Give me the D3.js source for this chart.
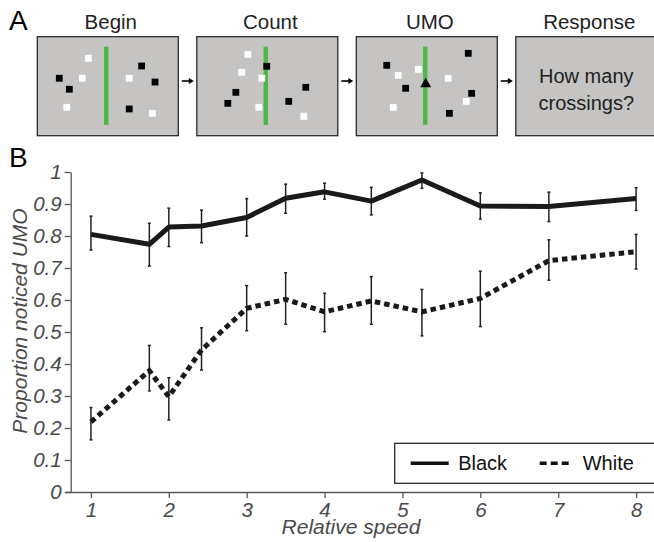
<!DOCTYPE html>
<html>
<head>
<meta charset="utf-8">
<script src="https://cdn.jsdelivr.net/npm/d3@7"></script>
<style>
body { margin: 0; background: #fff; }
text { font-family: "Liberation Sans", Arial, sans-serif; }
</style>
</head>
<body>
<div id="fig"></div>
<script>
// panel B data
const speeds = [1, 1.75, 2, 2.42, 3, 3.5, 4, 4.6, 5.25, 6, 6.88, 8];
const blackMean = [0.805, 0.774, 0.828, 0.831, 0.858, 0.918, 0.938, 0.909, 0.975, 0.894, 0.892, 0.917];
const blackLo = [0.756, 0.706, 0.767, 0.779, 0.800, 0.871, 0.915, 0.866, 0.949, 0.853, 0.845, 0.880];
const blackHi = [0.862, 0.840, 0.887, 0.881, 0.917, 0.962, 0.965, 0.952, 0.997, 0.935, 0.937, 0.951];
const whiteMean = [0.219, 0.379, 0.298, 0.444, 0.574, 0.602, 0.563, 0.597, 0.563, 0.605, 0.723, 0.751];
const whiteLo = [0.163, 0.316, 0.225, 0.381, 0.504, 0.524, 0.501, 0.524, 0.488, 0.517, 0.662, 0.697];
const whiteHi = [0.264, 0.458, 0.357, 0.513, 0.645, 0.685, 0.621, 0.673, 0.633, 0.690, 0.788, 0.805];
const xTicks = [1, 2, 3, 4, 5, 6, 7, 8];
const yTicks = [0, 0.1, 0.2, 0.3, 0.4, 0.5, 0.6, 0.7, 0.8, 0.9, 1];
const seriesNames = ["Black", "White"];

// panel A: stages and dot layouts (fractions of the box)
const stages = ["Begin", "Count", "UMO", "Response"];
const dotsBegin = [
  ["w", 0.362, 0.218], ["k", 0.156, 0.420], ["w", 0.319, 0.420], ["k", 0.227, 0.531],
  ["w", 0.209, 0.713], ["k", 0.740, 0.296], ["w", 0.652, 0.420], ["k", 0.835, 0.458],
  ["k", 0.652, 0.730], ["w", 0.816, 0.774]];
const dotsCount = [
  ["w", 0.362, 0.178], ["k", 0.496, 0.299], ["w", 0.319, 0.360], ["w", 0.461, 0.420],
  ["k", 0.277, 0.562], ["k", 0.220, 0.673], ["w", 0.440, 0.713], ["k", 0.773, 0.511],
  ["k", 0.652, 0.653], ["w", 0.759, 0.804]];
const dotsUmo = [
  ["k", 0.794, 0.168], ["k", 0.216, 0.289], ["w", 0.440, 0.329], ["w", 0.298, 0.390],
  ["w", 0.652, 0.420], ["k", 0.350, 0.521], ["k", 0.818, 0.572], ["w", 0.780, 0.653],
  ["w", 0.262, 0.713], ["k", 0.660, 0.774]];
const umoPos = [0.492, 0.471];
const responseLines = ["How many", "crossings?"];

const W = 654, H = 542;
const svg = d3.select('#fig').append('svg')
  .attr('width', W)
  .attr('height', H);

svg.append('rect').attr('width', W).attr('height', H).attr('fill', 'white');

// panel letters
svg.append('text').attr('x', 9).attr('y', 30).attr('font-size', 28).text('A');
svg.append('text').attr('x', 9).attr('y', 167).attr('font-size', 28).text('B');

// ---------- panel A ----------
const boxW = 141, boxH = 99, boxTop = 36.7;
const boxX = d3.scaleLinear().domain([0, 1]).range([37.3, 196.8]); // box index -> left edge
const boxDots = [dotsBegin, dotsCount, dotsUmo, null];

stages.forEach(function (name, i) {
  const x0 = boxX(i);
  const g = svg.append('g').attr('transform', 'translate(' + x0 + ',' + boxTop + ')');
  const fx = d3.scaleLinear().domain([0, 1]).range([0, boxW]);
  const fy = d3.scaleLinear().domain([0, 1]).range([0, boxH]);

  g.append('rect')
    .attr('width', boxW).attr('height', boxH)
    .attr('fill', '#c5c4c2')
    .attr('stroke', '#2a2a2a')
    .attr('stroke-width', 1.3);

  svg.append('text')
    .attr('x', x0 + boxW / 2 + 3).attr('y', 28.5)
    .attr('text-anchor', 'middle')
    .attr('font-size', 20.5)
    .attr('fill', '#222')
    .text(name);

  const dots = boxDots[i];
  if (dots) {
    g.append('rect')
      .attr('x', fx(0.489) - 2.2).attr('y', fy(0.101))
      .attr('width', 4.4).attr('height', fy(0.891) - fy(0.101))
      .attr('fill', '#4cb848');
    g.selectAll('.dot')
      .data(dots)
      .enter().append('rect')
      .attr('class', 'dot')
      .attr('x', function (d) { return fx(d[1]) - 3.4; })
      .attr('y', function (d) { return fy(d[2]) - 3.4; })
      .attr('width', 6.8).attr('height', 6.8)
      .attr('fill', function (d) { return d[0] === 'k' ? '#000' : '#fff'; });
    if (name === 'UMO') {
      const tx = fx(umoPos[0]), ty = fy(umoPos[1]);
      g.append('path')
        .attr('d', 'M' + tx + ',' + (ty - 5.5) + 'L' + (tx + 5.5) + ',' + (ty + 4) + 'L' + (tx - 5.5) + ',' + (ty + 4) + 'Z')
        .attr('fill', '#000');
    }
  } else {
    g.selectAll('.resp')
      .data(responseLines)
      .enter().append('text')
      .attr('x', boxW / 2)
      .attr('y', function (d, j) { return 46.6 + j * 26.7; })
      .attr('text-anchor', 'middle')
      .attr('font-size', 20)
      .attr('fill', '#222')
      .text(function (d) { return d; });
  }

  if (i < stages.length - 1) {
    const ax = x0 + boxW + 3.5, ay = 81;
    svg.append('line')
      .attr('x1', ax).attr('y1', ay).attr('x2', ax + 8).attr('y2', ay)
      .attr('stroke', '#000').attr('stroke-width', 1.6);
    svg.append('path')
      .attr('d', 'M' + (ax + 12) + ',' + ay + 'L' + (ax + 7) + ',' + (ay - 3) + 'L' + (ax + 7) + ',' + (ay + 3) + 'Z')
      .attr('fill', '#000');
  }
});

// ---------- panel B ----------
const x = d3.scaleLinear().domain([0.667, 8.23]).range([65, 654]);
const y = d3.scaleLinear().domain([0, 1]).range([492, 172]);
const axisColor = '#555';

const xAxis = svg.append('g')
  .attr('transform', 'translate(0,492)')
  .call(d3.axisBottom(x).tickValues(xTicks).tickSize(6).tickSizeOuter(0).tickPadding(3.5)
    .tickFormat(d3.format('d')));
const yAxis = svg.append('g')
  .attr('transform', 'translate(70.7,0)')
  .call(d3.axisLeft(y).tickValues(yTicks).tickSize(6).tickSizeOuter(0).tickPadding(3)
    .tickFormat(function (d) { return d === 0 ? '0' : d === 1 ? '1' : d.toFixed(1); }));

[xAxis, yAxis].forEach(function (a) {
  a.select('.domain').attr('stroke', axisColor).attr('stroke-width', 1.3);
  a.selectAll('.tick line').attr('stroke', axisColor).attr('stroke-width', 1.3);
  a.selectAll('.tick text')
    .attr('fill', '#4a4a4a')
    .attr('font-size', 20.5)
    .attr('font-style', 'italic')
    .attr('font-family', '"Liberation Sans", Arial, sans-serif');
});
xAxis.selectAll('.tick text').attr('dy', '0.75em');

svg.append('text')
  .attr('x', 351).attr('y', 534)
  .attr('text-anchor', 'middle')
  .attr('font-size', 21)
  .attr('font-style', 'italic')
  .attr('fill', '#4a4a4a')
  .text('Relative speed');

svg.append('text')
  .attr('transform', 'translate(26.5,321) rotate(-90)')
  .attr('text-anchor', 'middle')
  .attr('font-size', 21)
  .attr('font-style', 'italic')
  .attr('fill', '#4a4a4a')
  .text('Proportion noticed UMO');

function series(mean, lo, hi) {
  return speeds.map(function (s, i) { return { s: s, m: mean[i], lo: lo[i], hi: hi[i] }; });
}
const blackData = series(blackMean, blackLo, blackHi);
const whiteData = series(whiteMean, whiteLo, whiteHi);

const line = d3.line()
  .x(function (d) { return x(d.s); })
  .y(function (d) { return y(d.m); });

function errorBars(data) {
  const g = svg.append('g');
  g.selectAll('.err')
    .data(data)
    .enter().append('line')
    .attr('x1', function (d) { return x(d.s); })
    .attr('x2', function (d) { return x(d.s); })
    .attr('y1', function (d) { return y(d.lo); })
    .attr('y2', function (d) { return y(d.hi); })
    .attr('stroke', '#222').attr('stroke-width', 1.5);
  ['lo', 'hi'].forEach(function (k) {
    g.selectAll('.cap-' + k)
      .data(data)
      .enter().append('line')
      .attr('x1', function (d) { return x(d.s) - 1.5; })
      .attr('x2', function (d) { return x(d.s) + 1.5; })
      .attr('y1', function (d) { return y(d[k]); })
      .attr('y2', function (d) { return y(d[k]); })
      .attr('stroke', '#222').attr('stroke-width', 1.5);
  });
}

errorBars(whiteData);
svg.append('path')
  .datum(whiteData)
  .attr('d', line)
  .attr('fill', 'none')
  .attr('stroke', '#1a1a1a')
  .attr('stroke-width', 5)
  .attr('stroke-dasharray', '5.5,4');

errorBars(blackData);
svg.append('path')
  .datum(blackData)
  .attr('d', line)
  .attr('fill', 'none')
  .attr('stroke', '#1a1a1a')
  .attr('stroke-width', 5)
  .attr('stroke-linejoin', 'round');

// legend
const lg = svg.append('g').attr('transform', 'translate(394.7,443.3)');
lg.append('rect')
  .attr('width', 270).attr('height', 40)
  .attr('fill', 'white')
  .attr('stroke', '#2a2a2a').attr('stroke-width', 1.3);
const legendItems = [
  { name: seriesNames[0], x: 16, dash: null, len: 38 },
  { name: seriesNames[1], x: 145, dash: '7,4', len: 33 }
];
legendItems.forEach(function (it) {
  lg.append('line')
    .attr('x1', it.x).attr('x2', it.x + it.len)
    .attr('y1', 20).attr('y2', 20)
    .attr('stroke', '#111').attr('stroke-width', 3.5)
    .attr('stroke-dasharray', it.dash);
  lg.append('text')
    .attr('x', it.x + (it.dash ? 43 : 47.5)).attr('y', 27)
    .attr('font-size', 20)
    .attr('fill', '#111')
    .text(it.name);
});
</script>
</body>
</html>
